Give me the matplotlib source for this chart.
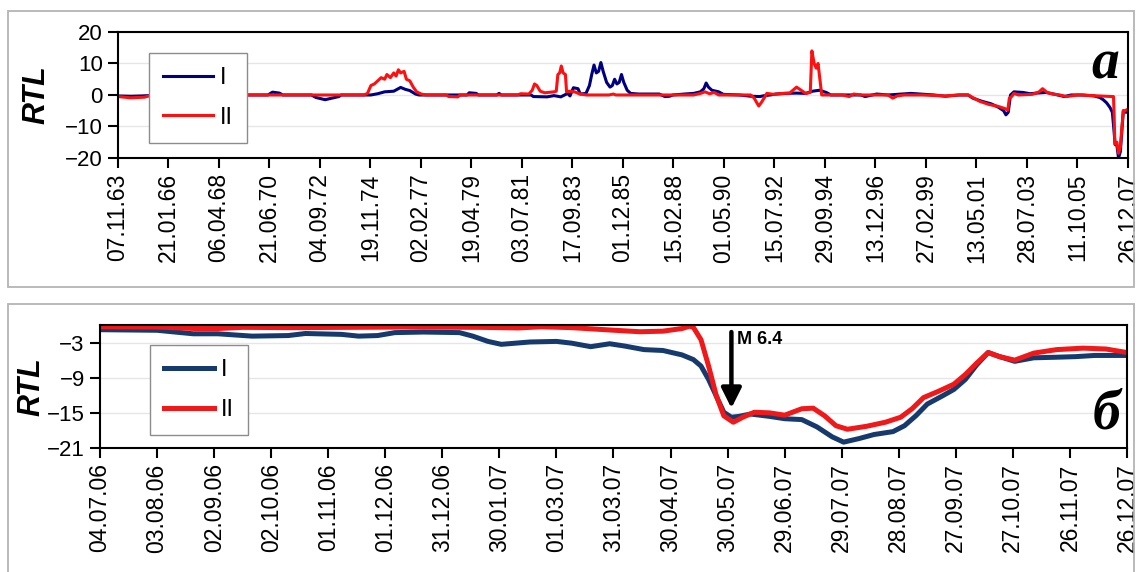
import numpy as np
import pandas as pd
import matplotlib
matplotlib.use("Agg")
import matplotlib.pyplot as plt
from matplotlib.patches import Rectangle

plt.rcParams['font.family'] = ['Liberation Sans', 'DejaVu Sans']

# --- panel a: RTL, 1963-2007 (x in decimal years) ---
top_i_x = [1963.85, 1964.4, 1964.9, 1965.2, 1966.0, 1970.4, 1970.6, 1970.9, 1971.05, 1972.3,
           1972.5, 1972.9, 1973.2, 1973.5, 1973.6, 1974.9, 1975.2, 1975.5, 1975.9, 1976.2,
           1976.4, 1976.6, 1976.85, 1977.0, 1979.1, 1979.2, 1979.5, 1979.6, 1980.4, 1980.5,
           1980.6, 1981.9, 1982.0, 1982.6, 1982.9, 1983.2, 1983.5, 1983.6, 1983.75, 1983.95,
           1984.05, 1984.3, 1984.45, 1984.55, 1984.65, 1984.75, 1984.85, 1984.95, 1985.05, 1985.2,
           1985.35, 1985.45, 1985.55, 1985.65, 1985.75, 1985.85, 1985.95, 1986.1, 1986.25, 1986.6,
           1987.0, 1987.5, 1987.75, 1987.95, 1988.1, 1988.6, 1989.0, 1989.3, 1989.45, 1989.55,
           1989.65, 1989.8, 1990.1, 1990.3, 1991.0, 1991.5, 1991.9, 1992.1, 1992.35, 1992.6,
           1993.0, 1993.5, 1993.9, 1994.2, 1994.5, 1994.8, 1995.0, 1996.3, 1996.5, 1997.0,
           1997.5, 1998.5, 1999.5, 2000.0, 2000.6, 2001.0, 2001.2, 2001.6, 2002.0, 2002.3,
           2002.55, 2002.65, 2002.75, 2002.85, 2003.0, 2003.4, 2003.7, 2004.0, 2004.4, 2004.8,
           2005.2, 2005.5, 2006.0, 2006.5, 2006.75, 2006.9, 2007.05, 2007.2, 2007.3, 2007.38,
           2007.42, 2007.5, 2007.57, 2007.65, 2007.72, 2007.78, 2007.9, 2007.98]
top_i_y = [-0.3, -0.4, -0.3, -0.2, 0.0, 0.0, 0.9, 0.6, 0.0, 0.0,
           -0.8, -1.5, -1.0, -0.5, 0.0, 0.0, 0.4, 1.0, 1.2, 2.4,
           1.8, 1.4, 0.3, 0.0, 0.0, 0.7, 0.5, 0.0, 0.0, 0.5,
           0.0, 0.0, -0.5, -0.6, -0.2, -0.6, 0.5, -0.3, 2.3, 2.0,
           0.3, 0.5, 3.0, 6.5, 9.5, 7.0, 7.5, 10.3, 7.5, 4.0,
           2.5, 3.0, 5.0, 3.5, 4.0, 6.5, 4.0, 1.5, 0.5, 0.3,
           0.3, 0.3, -0.5, -0.4, 0.0, 0.3, 0.5, 1.0, 2.0, 3.8,
           2.5, 1.5, 1.0, 0.2, 0.0, -0.4, -0.5, -0.2, 0.0, 0.3,
           0.5, 0.6, 0.5, 1.2, 1.5, 0.8, 0.0, 0.0, -0.5, 0.3,
           0.0, 0.5, 0.0, -0.4, 0.0, 0.0, -1.0, -2.0, -2.8, -3.8,
           -5.0, -6.3, -5.5, 0.0, 1.0, 0.8, 0.4, 0.6, 0.8, 0.2,
           -0.5, 0.0, 0.0, -0.3, -0.8, -1.5, -2.5, -4.0, -5.5, -12.0,
           -15.7, -16.0, -20.0, -18.0, -11.0, -5.0, -5.5, -5.2]

top_ii_x = [1963.85, 1964.4, 1965.0, 1965.2, 1966.0, 1974.6, 1974.75, 1974.9, 1975.05, 1975.2,
            1975.35, 1975.5, 1975.6, 1975.75, 1975.9, 1976.0, 1976.1, 1976.2, 1976.35, 1976.45,
            1976.6, 1976.75, 1976.9, 1977.1, 1977.3, 1978.2, 1978.3, 1978.7, 1978.8, 1981.3,
            1981.45, 1981.8, 1981.95, 1982.05, 1982.15, 1982.3, 1982.5, 1982.9, 1983.0, 1983.07,
            1983.15, 1983.22, 1983.3, 1983.4, 1983.45, 1983.6, 1983.8, 1984.0, 1984.3, 1985.3,
            1985.5, 1985.6, 1989.0, 1989.3, 1989.5, 1989.7, 1989.9, 1990.1, 1991.5, 1991.65,
            1991.75, 1991.85, 1991.95, 1992.1, 1992.2, 1992.5, 1992.9, 1993.2, 1993.5, 1993.7,
            1993.9, 1994.1, 1994.17, 1994.27, 1994.36, 1994.44, 1994.52, 1994.6, 1995.5, 1995.8,
            1996.0, 1996.3, 1997.5, 1997.7, 1997.9, 1998.2, 1999.0, 2000.0, 2000.6, 2001.0,
            2001.2, 2001.5, 2001.9, 2002.3, 2002.6, 2002.73, 2002.8, 2002.9, 2003.0, 2003.2,
            2003.8, 2004.1, 2004.25, 2004.45, 2004.7, 2005.0, 2005.3, 2005.5, 2005.8, 2007.3,
            2007.35, 2007.38, 2007.41, 2007.5, 2007.57, 2007.65, 2007.72, 2007.78, 2007.85, 2007.98]
top_ii_y = [-0.5, -0.9, -0.7, -0.3, 0.0, 0.0, 0.5, 3.0, 3.5, 4.5,
            5.5, 5.0, 6.5, 5.5, 7.0, 6.0, 8.0, 7.0, 7.5, 5.0,
            4.5, 2.5, 1.0, 0.3, 0.0, 0.0, -0.5, -0.6, 0.0, 0.0,
            0.4, 0.3, 1.5, 3.5, 3.0, 1.2, 0.7, 1.0, 1.2, 6.5,
            7.0, 9.2, 7.0, 6.5, 1.0, 1.2, 1.0, 0.4, 0.0, 0.0,
            0.3, 0.0, 0.0, 0.5, 1.0, 0.4, 0.8, 0.0, 0.0, -1.0,
            -2.3, -3.5, -2.5, -0.8, 0.5, 0.2, 0.5, 0.6, 2.5, 1.5,
            0.5, 0.8, 14.0, 10.0, 8.5, 10.0, 5.0, 0.0, 0.0, -0.5,
            0.3, 0.0, 0.0, -1.0, -0.3, 0.0, 0.0, -0.3, 0.0, 0.0,
            -0.8, -2.0, -3.0, -3.6, -4.3, -4.8, -1.0, -0.5, 0.5, 0.0,
            0.2, 1.0, 2.0, 0.8, 0.3, 0.0, -0.5, -0.3, 0.0, -0.5,
            -0.5, -7.0, -15.5, -15.0, -18.5, -16.5, -10.0, -5.0, -5.0, -4.5]

top_ticks = pd.date_range('1963-11-07', periods=21, freq='806D')

# --- panel b: RTL, 04.07.06 - 26.12.07 (x in days from the start) ---
start_b = pd.Timestamp('2006-07-04')
bot_i_day = [0, 30, 49, 62, 80, 99, 108, 127, 136, 146, 155, 170, 189, 196, 204, 211, 226, 240,
             248, 258, 268, 276, 286, 296, 306, 312, 316, 320, 324, 328, 332, 336, 342, 352,
             360, 369, 377, 385, 391, 399, 407, 417, 423, 429, 435, 443, 449, 455, 461, 467,
             473, 481, 491, 503, 513, 523, 540]
bot_i_val = [-0.8, -0.9, -1.5, -1.5, -1.9, -1.8, -1.45, -1.6, -1.9, -1.8, -1.3, -1.2, -1.3, -1.9,
             -2.8, -3.3, -2.9, -2.8, -3.1, -3.7, -3.2, -3.6, -4.2, -4.35, -5.1, -5.9, -7.0, -9.3,
             -12.1, -14.9, -15.75, -15.6, -15.2, -15.6, -16.0, -16.15, -17.4, -19.1, -20.0, -19.4,
             -18.7, -18.2, -17.2, -15.5, -13.5, -12.1, -11.0, -9.3, -6.8, -4.7, -5.4, -6.2, -5.6,
             -5.5, -5.4, -5.2, -5.2]
bot_ii_day = [0, 30, 50, 62, 75, 100, 130, 160, 200, 220, 232, 248, 268, 284, 296, 306, 310,
              312, 316, 320, 324, 328, 333, 338, 344, 352, 360, 369, 375, 381, 387, 393, 403,
              413, 421, 427, 433, 441, 449, 455, 461, 467, 473, 481, 491, 503, 517, 529, 540]
bot_ii_val = [-0.3, -0.35, -0.6, -0.6, -0.4, -0.45, -0.4, -0.35, -0.4, -0.5, -0.3, -0.45, -0.85,
              -1.15, -1.05, -0.6, -0.2, -0.4, -2.5, -7.0, -12.0, -15.5, -16.6, -15.75, -14.9,
              -15.0, -15.4, -14.3, -14.2, -15.5, -17.2, -17.8, -17.3, -16.6, -15.75, -14.3,
              -12.4, -11.3, -10.1, -8.45, -6.5, -4.7, -5.4, -6.0, -4.8, -4.2, -3.95, -4.1, -4.7]
bot_ticks = pd.date_range(start_b, periods=19, freq='30D')
quake_day = (pd.Timestamp('2007-06-01') - start_b).days


def dec_year(d):
    days = 366 if d.is_leap_year else 365
    return d.year + (d.dayofyear - 1) / days


def style_axes(ax):
    for s in ax.spines.values():
        s.set_linewidth(1.5)
        s.set_color('black')
    ax.tick_params(axis='both', direction='out', length=7, width=1.5, pad=4)
    ax.tick_params(axis='y', labelsize=16)
    ax.tick_params(axis='x', labelsize=16.5, rotation=90)
    ax.yaxis.grid(True, color='#e6e6e6', lw=1)
    ax.set_axisbelow(True)


def add_legend(ax, anchor):
    leg = ax.legend(loc='upper left', bbox_to_anchor=anchor, borderaxespad=0,
                    fontsize=17, fancybox=False, framealpha=1, edgecolor='#8c8c8c',
                    handlelength=2.1, handletextpad=0.3, labelspacing=0.75, borderpad=0.6)
    leg.get_frame().set_linewidth(1.0)
    return leg


fig = plt.figure(figsize=(11.38, 5.72), dpi=100)

# grey frames round each panel
for y0, h in [(0.498, 0.483), (-0.02, 0.4885)]:
    fig.add_artist(Rectangle((0.007, y0), 0.9895, h, transform=fig.transFigure,
                             fill=False, edgecolor='#b4b4b4', lw=1.3))

ax1 = fig.add_axes([0.1037, 0.7238, 0.8875, 0.2203])
ax1.plot(top_i_x, top_i_y, color='#000080', lw=2.2, label='I')
ax1.plot(top_ii_x, top_ii_y, color='#ff1010', lw=2.2, label='II')
ax1.set_xlim(dec_year(top_ticks[0]), dec_year(top_ticks[-1]))
ax1.set_ylim(-20, 20)
ax1.set_yticks([-20, -10, 0, 10, 20])
ax1.set_xticks([dec_year(d) for d in top_ticks])
ax1.set_xticklabels([d.strftime('%d.%m.%y') for d in top_ticks])
style_axes(ax1)
ax1.set_ylabel('RTL', fontsize=22, fontweight='bold', fontstyle='italic')
ax1.yaxis.set_label_coords(-0.066, 0.5)
add_legend(ax1, (0.031, 0.835))
ax1.text(0.977, 0.74, 'а', transform=ax1.transAxes, ha='center', va='center',
         fontsize=40, fontweight='bold', fontstyle='italic', family='Liberation Serif')

ax2 = fig.add_axes([0.0879, 0.2168, 0.9024, 0.215])
ax2.plot(bot_i_day, bot_i_val, color='#173a6e', lw=3.6, label='I')
ax2.plot(bot_ii_day, bot_ii_val, color='#f01818', lw=3.6, label='II')
bot_pos = [(d - start_b).days for d in bot_ticks]
ax2.set_xlim(bot_pos[0], bot_pos[-1])
ax2.set_ylim(-21, 0)
ax2.set_yticks([-21, -15, -9, -3])
ax2.set_xticks(bot_pos)
ax2.set_xticklabels([d.strftime('%d.%m.%y') for d in bot_ticks])
style_axes(ax2)
ax2.set_ylabel('RTL', fontsize=22, fontweight='bold', fontstyle='italic')
ax2.yaxis.set_label_coords(-0.052, 0.5)
add_legend(ax2, (0.0487, 0.837))

# earthquake marker
ax2.annotate('', xy=(quake_day, -14.2), xytext=(quake_day, -1.2),
             arrowprops=dict(arrowstyle='-|>', color='black', lw=3.2, mutation_scale=30,
                             shrinkA=0, shrinkB=0))
ax2.text(quake_day + 3, -2.4, 'M 6.4', fontsize=13, fontweight='bold', va='center', ha='left')
ax2.text(0.98, 0.27, 'б', transform=ax2.transAxes, ha='center', va='center',
         fontsize=40, fontweight='bold', fontstyle='italic', family='Liberation Serif')

fig.savefig('out.png', dpi=100)
